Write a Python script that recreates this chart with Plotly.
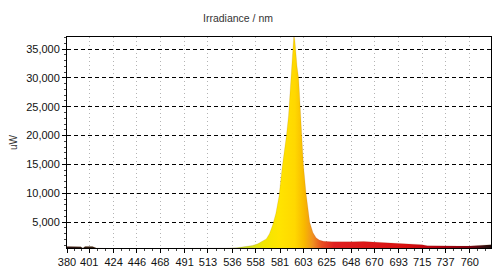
import plotly.graph_objects as go

# Spectrum (wavelength nm -> irradiance uW)
wavelength = [380, 385, 390, 393, 395, 397, 400, 404, 408, 420, 450, 480, 500, 520, 530,
              540, 550, 555, 560, 565, 568, 571, 574, 577, 580, 583, 585, 587, 589, 590,
              591.5, 593, 594, 595, 596, 597, 598.5, 600, 601, 603, 605.5, 607, 609, 612,
              615, 618, 622, 630, 640, 650, 660, 670, 680, 690, 700, 710, 715, 720, 730,
              740, 750, 760, 770, 775, 780]
irradiance = [800, 800, 790, 720, 500, 760, 800, 760, 500, 420, 400, 400, 410, 450, 500,
              560, 750, 950, 1250, 1700, 2100, 3000, 4500, 6500, 9500, 14500, 17000, 20000, 23500, 26000,
              30000, 34500, 37500, 36500, 34000, 32000, 30000, 25000, 20000, 15000, 10000, 7500, 5000, 3200,
              2300, 1900, 1700, 1600, 1550, 1600, 1650, 1550, 1450, 1400, 1350, 1250, 1100, 900, 850,
              850, 850, 850, 950, 1050, 1100]

x_tick_labels = ["380", "401", "424", "446", "468", "491", "513", "536", "558", "581",
                 "603", "625", "648", "670", "693", "715", "737", "760"]
y_tick_values = [5000, 10000, 15000, 20000, 25000, 30000, 35000]

title_text = "Irradiance / nm"
y_title = "uW"

x_tick_vals = [float(t) for t in x_tick_labels]
minor_x = []
for a, b in zip(x_tick_vals[:-1], x_tick_vals[1:]):
    minor_x += [a + (b - a) / 3, a + 2 * (b - a) / 3]
minor_x += [760 + 22.4 / 3 * k for k in (1, 2, 3, 4, 5)]

x0, x1 = 380, 780
def pos(nm):
    return (nm - x0) / (x1 - x0)

colorscale = [
    [pos(380), "#2a1010"],
    [pos(520), "#6a6a10"],
    [pos(540), "#b8d030"],
    [pos(555), "#d8e020"],
    [pos(566), "#f2e600"],
    [pos(580), "#ffe400"],
    [pos(595), "#ffd800"],
    [pos(604), "#f8b800"],
    [pos(612), "#f09020"],
    [pos(620), "#e85020"],
    [pos(632), "#e02020"],
    [pos(700), "#d81010"],
    [pos(730), "#b00010"],
    [pos(760), "#800010"],
    [pos(775), "#301010"],
    [pos(780), "#200808"],
]

fig = go.Figure()
fig.add_trace(go.Scatter(
    x=wavelength, y=irradiance, mode="lines",
    line=dict(width=0.5, color="rgba(120,60,0,0.25)"),
    fill="tozeroy",
    fillgradient=dict(type="horizontal", colorscale=colorscale, start=x0, stop=x1),
    hoverinfo="skip", showlegend=False,
))

font = dict(family="Liberation Sans, Arial, sans-serif", size=11, color="#111")

fig.update_layout(
    width=500, height=279,
    margin=dict(l=67, r=9, t=37, b=31),
    paper_bgcolor="white", plot_bgcolor="white",
    font=font,
    title=dict(text=title_text, x=0.476, xref="container", xanchor="center",
               y=1 - 18 / 279, yref="container", yanchor="middle",
               font=dict(family="Liberation Sans, Arial, sans-serif", size=10.5, color="#333")),
    showlegend=False,
)
fig.update_xaxes(
    range=[x0, x1], tickmode="array", tickvals=x_tick_vals, ticktext=x_tick_labels,
    ticks="outside", ticklen=4, tickcolor="#000",
    showline=True, linecolor="#000", linewidth=1, mirror=True,
    showgrid=True, gridcolor="#b4b4b4", griddash="1px,3px", gridwidth=1,
    zeroline=False,
    minor=dict(tickmode="array", tickvals=minor_x, ticks="outside", ticklen=2, tickcolor="#444", showgrid=False),
    tickfont=font,
)
fig.update_yaxes(
    range=[520, 37090], tickmode="array", tickvals=y_tick_values, tickformat=",d",
    ticks="outside", ticklen=4, tickcolor="#000",
    showline=True, linecolor="#000", linewidth=1, mirror=True,
    showgrid=True, gridcolor="#000", griddash="4px,3px", gridwidth=1,
    zeroline=False,
    minor=dict(dtick=1000, tick0=0, ticks="outside", ticklen=2, tickcolor="#444", showgrid=False),
    title=dict(text=y_title, standoff=6, font=dict(family="Liberation Sans, Arial, sans-serif", size=10, color="#333")),
    tickfont=font,
)

fig.write_html("out.html")
